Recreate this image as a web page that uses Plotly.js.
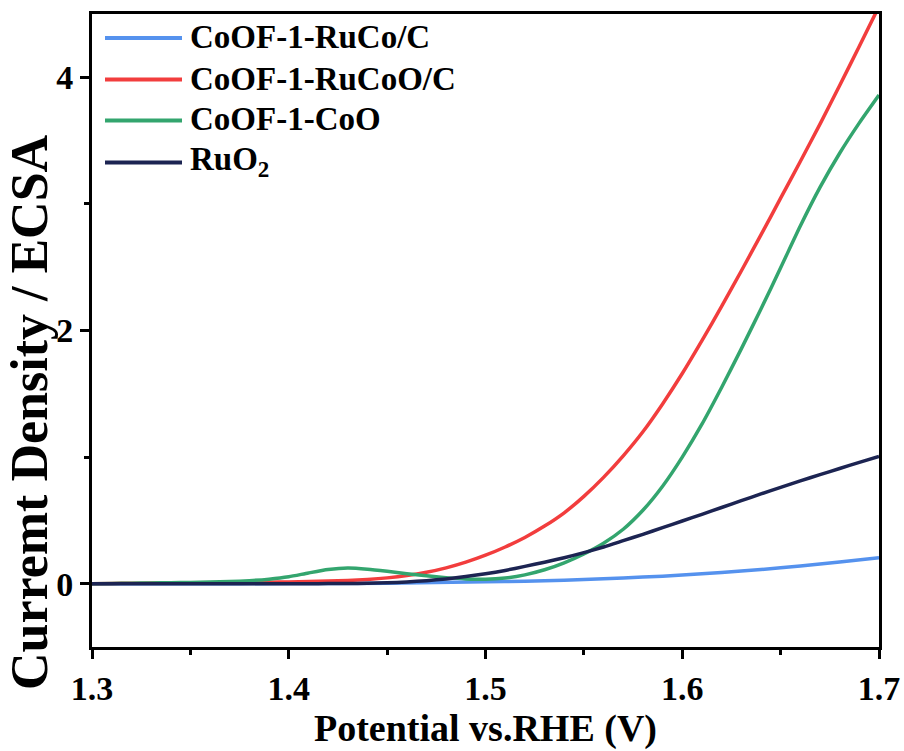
<!DOCTYPE html>
<html>
<head>
<meta charset="utf-8">
<script src="https://cdn.plot.ly/plotly-3.0.1.min.js"></script>
<style>html,body{margin:0;padding:0;background:#fff;}#chart{width:904px;height:751px;}</style>
</head>
<body>
<div id="chart"></div>
<script>
// ---- Data ----
const seriesNames = ["CoOF-1-RuCo/C", "CoOF-1-RuCoO/C", "CoOF-1-CoO", "RuO<sub>2</sub>"];
const seriesColors = ["#5592ee", "#f23d3d", "#33a56e", "#1c2452"];

// potential (V), shared grid for the three sampled curves
const potential = [1.30, 1.31, 1.32, 1.33, 1.34, 1.35, 1.36, 1.37, 1.38, 1.39,
                   1.40, 1.41, 1.42, 1.43, 1.44, 1.45, 1.46, 1.47, 1.48, 1.49,
                   1.50, 1.51, 1.52, 1.53, 1.54, 1.55, 1.56, 1.57, 1.58, 1.59,
                   1.60, 1.61, 1.62, 1.63, 1.64, 1.65, 1.66, 1.67, 1.68, 1.69, 1.70];

const ruCoOY = [0.000, 0.002, 0.004, 0.005, 0.006, 0.007, 0.008, 0.009, 0.010, 0.012,
                0.014, 0.017, 0.021, 0.026, 0.034, 0.046, 0.064, 0.090, 0.125, 0.170,
                0.225, 0.290, 0.365, 0.455, 0.560, 0.690, 0.840, 1.010, 1.200, 1.420,
                1.660, 1.920, 2.190, 2.470, 2.755, 3.045, 3.335, 3.630, 3.935, 4.245, 4.560];

const coOY = [0.000, 0.002, 0.004, 0.006, 0.008, 0.010, 0.013, 0.017, 0.024, 0.036,
              0.055, 0.085, 0.112, 0.124, 0.115, 0.098, 0.079, 0.062, 0.048, 0.038,
              0.035, 0.045, 0.070, 0.110, 0.165, 0.235, 0.320, 0.430, 0.580, 0.770,
              1.000, 1.260, 1.550, 1.855, 2.170, 2.495, 2.825, 3.130, 3.400, 3.640, 3.860];

const ruO2Y = [0.000, 0.000, 0.000, 0.000, 0.000, 0.000, 0.000, 0.000, 0.000, 0.000,
               0.000, 0.000, 0.001, 0.001, 0.003, 0.007, 0.014, 0.024, 0.038, 0.056,
               0.078, 0.105, 0.137, 0.170, 0.205, 0.245, 0.290, 0.340, 0.390, 0.443,
               0.495, 0.548, 0.602, 0.656, 0.709, 0.761, 0.812, 0.861, 0.910, 0.958, 1.005];

const ruCoX = [1.30, 1.35, 1.40, 1.45, 1.50, 1.52, 1.54, 1.56, 1.58, 1.60, 1.62, 1.64, 1.66, 1.68, 1.70];
const ruCoY = [0.000, 0.000, 0.001, 0.004, 0.015, 0.020, 0.028, 0.040, 0.052, 0.068, 0.088, 0.112, 0.140, 0.172, 0.205];

const xTicks = [1.3, 1.4, 1.5, 1.6, 1.7];
const yTicks = [0, 2, 4];

const xTitle = "Potential vs.RHE (V)";
const yTitle = "Curremt Density / ECSA";

// ---- Plot ----
const FONT = "Liberation Serif, Times New Roman, serif";
const xs = [ruCoX, potential, potential, potential];
const ys = [ruCoY, ruCoOY, coOY, ruO2Y];

const traces = xs.map((x, i) => ({
  x: x, y: ys[i], type: "scatter", mode: "lines", name: seriesNames[i],
  line: {color: seriesColors[i], width: 3.5, shape: "spline", smoothing: 0.6},
  showlegend: false
}));

// manual legend (line samples + labels)
const legendRowsPx = [38, 79.5, 120.5, 162.5];
const L = 92, R = 879, T = 14, B = 647;
const px2x = p => (p - L) / (R - L);
const py2y = p => (B - p) / (B - T);
const shapes = [];
const annotations = [];
seriesNames.forEach((n, i) => {
  shapes.push({type: "line", xref: "paper", yref: "paper",
    x0: px2x(105), x1: px2x(182), y0: py2y(legendRowsPx[i]), y1: py2y(legendRowsPx[i]),
    line: {color: seriesColors[i], width: 4}});
  annotations.push({xref: "paper", yref: "paper", x: px2x(188), y: py2y(legendRowsPx[i] - 1),
    xanchor: "left", yanchor: "middle", showarrow: false, text: n,
    font: {family: FONT, size: 33, color: "#000", weight: "bold"}});
});
annotations.push({xref: "paper", yref: "paper", x: px2x(29), y: py2y(412),
  xanchor: "center", yanchor: "middle", textangle: -90, showarrow: false, text: yTitle,
  font: {family: FONT, size: 52, color: "#000", weight: "bold"}});

const layout = {
  width: 904, height: 751,
  margin: {l: L, r: 904 - R, t: T, b: 751 - B, pad: 0},
  paper_bgcolor: "#fff", plot_bgcolor: "#fff",
  font: {family: FONT, color: "#000", weight: "bold"},
  showlegend: false,
  xaxis: {
    range: [1.3, 1.7], tickvals: xTicks, ticktext: xTicks.map(v => v.toFixed(1)),
    showgrid: false, zeroline: false, showline: true, mirror: true, linewidth: 3, linecolor: "#000",
    ticks: "outside", ticklen: 9, tickwidth: 3, tickcolor: "#000",
    minor: {dtick: 0.05, tick0: 1.3, ticks: "outside", ticklen: 5, tickwidth: 3, tickcolor: "#000", showgrid: false},
    tickfont: {family: FONT, size: 34, color: "#000", weight: "bold"},
    title: {text: xTitle, font: {family: FONT, size: 38, color: "#000", weight: "bold"}, standoff: 2},
    automargin: false
  },
  yaxis: {
    range: [-0.5, 4.5], tickvals: yTicks, ticktext: yTicks.map(String),
    showgrid: false, zeroline: false, showline: true, mirror: true, linewidth: 3, linecolor: "#000",
    ticks: "outside", ticklen: 9, tickwidth: 3, tickcolor: "#000",
    minor: {dtick: 1, tick0: 0, ticks: "outside", ticklen: 5, tickwidth: 3, tickcolor: "#000", showgrid: false},
    tickfont: {family: FONT, size: 34, color: "#000", weight: "bold"},
    automargin: false
  },
  shapes: shapes,
  annotations: annotations
};

Plotly.newPlot("chart", traces, layout, {displayModeBar: false, staticPlot: true});
</script>
</body>
</html>
